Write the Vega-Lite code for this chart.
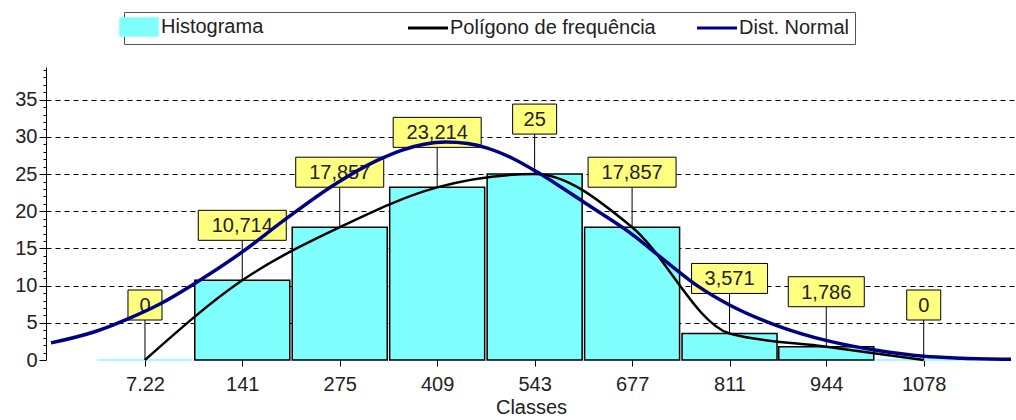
{
  "$schema": "https://vega.github.io/schema/vega-lite/v6.json",
  "autosize": "none",
  "padding": {"left": 46, "top": 67, "right": 0, "bottom": 60},
  "width": 970,
  "height": 293,
  "background": "white",
  "config": {
    "view": {"stroke": null},
    "locale": {"number": {"decimal": ",", "thousands": ".", "grouping": [3], "currency": ["", ""]}},
    "font": "Liberation Sans"
  },
  "datasets": {
    "classes": [
      {"classe": 7.22, "freq": 0},
      {"classe": 141, "freq": 10.714},
      {"classe": 275, "freq": 17.857},
      {"classe": 409, "freq": 23.214},
      {"classe": 543, "freq": 25},
      {"classe": 677, "freq": 17.857},
      {"classe": 811, "freq": 3.571},
      {"classe": 944, "freq": 1.786},
      {"classe": 1078, "freq": 0}
    ],
    "normal": [
      {"classe": -122, "freq": 2.3},
      {"classe": -62, "freq": 3.8},
      {"classe": -17, "freq": 5.5},
      {"classe": 29, "freq": 7.6},
      {"classe": 74, "freq": 10.2},
      {"classe": 142, "freq": 14.6},
      {"classe": 200, "freq": 18.9},
      {"classe": 268, "freq": 23.6},
      {"classe": 328, "freq": 26.9},
      {"classe": 360, "freq": 28.2},
      {"classe": 391, "freq": 29.0},
      {"classe": 421, "freq": 29.3},
      {"classe": 451, "freq": 29.1},
      {"classe": 478, "freq": 28.5},
      {"classe": 513, "freq": 27.1},
      {"classe": 546, "freq": 25.3},
      {"classe": 577, "freq": 23.4},
      {"classe": 614, "freq": 21.0},
      {"classe": 677, "freq": 16.9},
      {"classe": 723, "freq": 13.3},
      {"classe": 768, "freq": 9.9},
      {"classe": 811, "freq": 7.4},
      {"classe": 877, "freq": 4.6},
      {"classe": 945, "freq": 2.6},
      {"classe": 1013, "freq": 1.3},
      {"classe": 1078, "freq": 0.5},
      {"classe": 1131, "freq": 0.25},
      {"classe": 1198, "freq": 0.1}
    ]
  },
  "encoding": {
    "x": {
      "field": "classe", "type": "quantitative",
      "scale": {"domain": [-122, 1198], "nice": false, "zero": false},
      "axis": {
        "title": "Classes",
        "values": [7.22, 141, 275, 409, 543, 677, 811, 944, 1078],
        "labelExpr": "replace(format(datum.value, '~g'), ',', '.')",
        "domain": false, "grid": false,
        "tickColor": "black", "tickSize": 6,
        "labelFont": "Liberation Sans", "labelFontSize": 20, "labelColor": "#222",
        "labelPadding": 8, "labelDx": 5, "labelFlush": false, "labelOverlap": false,
        "titleFont": "Liberation Sans", "titleFontSize": 20, "titleFontWeight": "normal",
        "titleColor": "#222", "titlePadding": 3
      }
    },
    "y": {
      "field": "freq", "type": "quantitative",
      "scale": {"domain": [0, 39.4], "nice": false},
      "axis": {
        "title": null,
        "values": [0, 1, 2, 3, 4, 5, 6, 7, 8, 9, 10, 11, 12, 13, 14, 15, 16, 17, 18, 19, 20, 21, 22, 23, 24, 25, 26, 27, 28, 29, 30, 31, 32, 33, 34, 35, 36, 37, 38, 39],
        "labelExpr": "datum.value % 5 === 0 ? datum.label : ''",
        "domainColor": "black", "tickColor": "black",
        "tickSize": {"condition": {"test": "datum.value % 5 === 0", "value": 7}, "value": 3},
        "labelFont": "Liberation Sans", "labelFontSize": 20, "labelColor": "#222",
        "labelPadding": 2, "labelFlush": false, "labelOverlap": false,
        "grid": true, "gridColor": "black", "gridDash": [5, 4], "gridWidth": 1,
        "gridOpacity": {"condition": {"test": "datum.value % 5 !== 0 || datum.value === 0", "value": 0}, "value": 1}
      }
    }
  },
  "layer": [
    {
      "data": {"name": "classes"},
      "mark": {"type": "bar", "width": 95, "strokeWidth": 1.5},
      "encoding": {
        "color": {
          "datum": "Histograma",
          "scale": {"domain": ["Histograma", "Polígono de frequência", "Dist. Normal"], "range": ["#80FFFF", "#000000", "#000080"]},
          "legend": {
            "orient": "none", "legendX": 78, "legendY": -55,
            "direction": "horizontal", "columns": 3, "gridAlign": "all", "columnPadding": 35,
            "title": null,
            "labelFont": "Liberation Sans", "labelFontSize": 20, "labelColor": "#222", "labelOffset": 12, "labelLimit": 400,
            "padding": 5, "strokeColor": "#555", "fillColor": "white",
            "symbolSize": 1600,
            "symbolType": {"expr": "datum.value === 'Histograma' ? 'M-0.95,-0.45H0.95V0.45H-0.95Z' : 'stroke'"},
            "symbolFillColor": {"expr": "datum.value === 'Histograma' ? '#80FFFF' : 'transparent'"},
            "symbolStrokeColor": {"expr": "datum.value === 'Dist. Normal' ? '#000080' : '#000000'"},
            "symbolStrokeWidth": {"expr": "datum.value === 'Histograma' ? 1.5 : 3"},
            "encode": {
              "symbols": {
                "update": {
                  "stroke": {"signal": "datum.value === 'Dist. Normal' ? '#000080' : '#000000'"}
                }
              }
            }
          }
        },
        "stroke": {"condition": {"test": "datum.freq === 0", "value": "#80FFFF"}, "value": "black"}
      }
    },
    {
      "data": {"name": "classes"},
      "mark": {"type": "rule", "color": "black", "strokeWidth": 1, "y2Offset": -40},
      "encoding": {"y2": {"field": "freq"}}
    },
    {
      "data": {"name": "classes"},
      "transform": [{"filter": "datum.freq === 0"}],
      "mark": {"type": "rect", "fill": "#FFFF80", "stroke": "black", "strokeWidth": 1, "xOffset": -17, "x2Offset": 17, "yOffset": -70, "y2Offset": -40},
      "encoding": {"x2": {"field": "classe"}, "y2": {"field": "freq"}}
    },
    {
      "data": {"name": "classes"},
      "transform": [{"filter": "datum.freq === 25"}],
      "mark": {"type": "rect", "fill": "#FFFF80", "stroke": "black", "strokeWidth": 1, "xOffset": -22, "x2Offset": 22, "yOffset": -70, "y2Offset": -40},
      "encoding": {"x2": {"field": "classe"}, "y2": {"field": "freq"}}
    },
    {
      "data": {"name": "classes"},
      "transform": [{"filter": "datum.freq > 0 && datum.freq < 10"}],
      "mark": {"type": "rect", "fill": "#FFFF80", "stroke": "black", "strokeWidth": 1, "xOffset": -38, "x2Offset": 38, "yOffset": -70, "y2Offset": -40},
      "encoding": {"x2": {"field": "classe"}, "y2": {"field": "freq"}}
    },
    {
      "data": {"name": "classes"},
      "transform": [{"filter": "datum.freq >= 10 && datum.freq !== 25"}],
      "mark": {"type": "rect", "fill": "#FFFF80", "stroke": "black", "strokeWidth": 1, "xOffset": -44, "x2Offset": 44, "yOffset": -70, "y2Offset": -40},
      "encoding": {"x2": {"field": "classe"}, "y2": {"field": "freq"}}
    },
    {
      "data": {"name": "classes"},
      "mark": {"type": "text", "font": "Liberation Sans", "fontSize": 20, "color": "#222", "align": "center", "baseline": "middle", "yOffset": -54},
      "encoding": {"text": {"field": "freq", "type": "quantitative", "format": ".5~g"}}
    },
    {
      "data": {"name": "classes"},
      "mark": {"type": "line", "interpolate": "monotone", "strokeWidth": 2.5},
      "encoding": {"color": {"datum": "Polígono de frequência"}}
    },
    {
      "data": {"name": "normal"},
      "mark": {"type": "line", "interpolate": "monotone", "strokeWidth": 3.5},
      "encoding": {"color": {"datum": "Dist. Normal"}}
    }
  ]
}
